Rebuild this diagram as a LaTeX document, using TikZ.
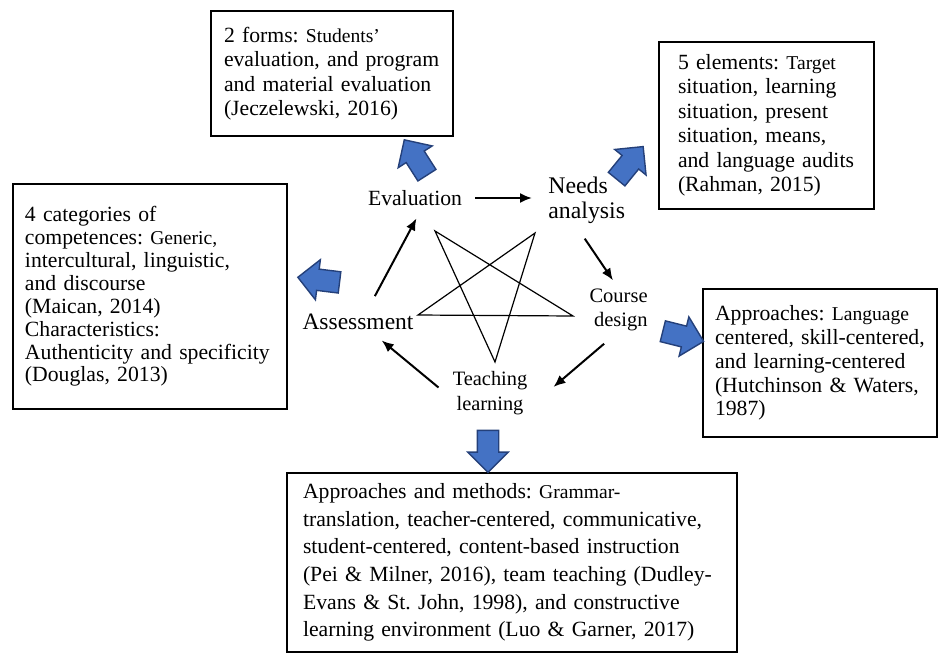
\documentclass[tikz,border=0pt]{standalone}
\usepackage{fontspec}
\setmainfont{Liberation Serif}
\usetikzlibrary{shapes.arrows,arrows.meta}
\definecolor{blockfill}{RGB}{68,114,196}
\definecolor{blockedge}{RGB}{36,64,122}
\newcommand{\minorword}[1]{{\fontsize{9.8}{11}\selectfont #1}}
\frenchspacing
\hyphenpenalty=10000

\begin{document}
\begin{tikzpicture}[x=0.5pt,y=-0.5pt,
  infobox/.style={rectangle,draw,line width=0.9pt,align=left,inner ysep=0pt},
  stage/.style={inner sep=0pt},
  flow/.style={-{Latex[length=6pt,width=5pt]},line width=1pt},
  star line/.style={line width=0.6pt},
  block arrow/.style={single arrow,draw=blockedge,fill=blockfill,line width=0.7pt,inner xsep=0pt,inner ysep=5pt,single arrow head extend=4.75pt,minimum height=21pt}
  ]
\useasboundingbox (0,0) rectangle (940,653);

% stages of the cycle
\node[stage, font=\fontsize{10.85}{12.5}\selectfont] (eval) at (415,198) {Evaluation};
\node[stage, align=left, anchor=west, font=\fontsize{11.9}{12.5}\selectfont] (needs) at (548,200) {Needs\\analysis};
\node[stage, align=right, anchor=east, font=\fontsize{10.25}{12}\selectfont] (course) at (648,310) {Course\\design};
\node[stage, font=\fontsize{11.75}{12.5}\selectfont] (assess) at (358,322) {Assessment};
\node[stage, align=center, font=\fontsize{10.2}{12.5}\selectfont] (teach) at (490,393) {Teaching\\learning};

\draw[flow, shorten <=6.5pt, shorten >=8pt] (eval.east) -- (eval.east -| needs.west);
\draw[flow, shorten <=9pt, shorten >=5pt] (needs.-117) -- (course.north);
\draw[flow, shorten <=9.5pt, shorten >=17pt] (course.south) -- (teach.-23);
\draw[flow, shorten <=9pt, shorten >=8pt] (teach.189) -- (assess.-36);
\draw[flow, shorten <=10pt, shorten >=7pt] (assess.48) -- (eval.-45);

% star
\draw[star line] (418,315) -- (535,233) -- (495,362) -- (435,231) -- (573,316) -- cycle;

% boxes
\node[infobox, text width=108pt, inner xsep=6.5pt, minimum width=121pt, minimum height=62.5pt, font=\fontsize{10.85}{12.2}\selectfont] (formsbox) at (332,73.5)
  {2 forms: \minorword{Students'}\\evaluation, and program\\and material evaluation\\(Jeczelewski, 2016)};
\node[infobox, text width=88.5pt, inner xsep=9.5pt, minimum width=107.5pt, minimum height=83.5pt, font=\fontsize{10.85}{12.25}\selectfont] (elembox) at (766.5,125.5)
  {5 elements: \minorword{Target}\\situation, learning\\situation, present\\situation, means,\\and language audits\\(Rahman, 2015)};
\node[infobox, text width=125pt, inner xsep=6pt, minimum width=137pt, minimum height=112.5pt, font=\fontsize{10.85}{11.45}\selectfont] (compbox) at (150,296.5)
  {4 categories of\\competences:\minorword{ Generic,}\\intercultural, linguistic,\\and discourse\\(Maican, 2014)\\Characteristics:\\Authenticity and specificity\\(Douglas, 2013)};
\node[infobox, text width=105pt, inner xsep=6pt, minimum width=117pt, minimum height=74pt, font=\fontsize{10.85}{11.9}\selectfont] (designbox) at (820,363)
  {Approaches: \minorword{Language}\\centered, skill-centered,\\and learning-centered\\(Hutchinson \& Waters,\\1987)};
\node[infobox, text width=209pt, inner xsep=8pt, minimum width=225pt, minimum height=89.5pt, font=\fontsize{10.85}{13.8}\selectfont] (methodbox) at (512,562.5)
  {Approaches and methods: \minorword{Grammar-}\\translation, teacher-centered, communicative,\\student-centered, content-based instruction\\(Pei \& Milner, 2016), team teaching (Dudley-\\Evans \& St. John, 1998), and constructive\\learning environment (Luo \& Garner, 2017)};

% block arrows
\node[block arrow, rotate=122.6] (evalout) at (418.5,162) {};
\node[block arrow, rotate=50.8] (needsout) at (626.5,167) {};
\node[block arrow, rotate=173] (assessout) at (324,280.5) {};
\node[block arrow, rotate=-14] (courseout) at (678,335) {};
\node[block arrow, rotate=-90] (teachout) at (488,446) {};

\end{tikzpicture}
\end{document}
